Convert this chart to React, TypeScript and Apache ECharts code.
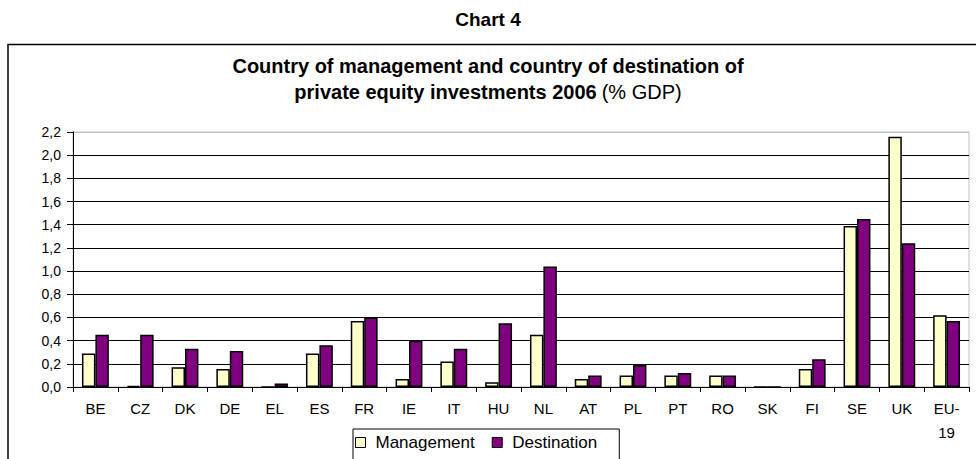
import React, { useEffect, useRef } from "react";
import * as echarts from "echarts";

const categories = ["BE", "CZ", "DK", "DE", "EL", "ES", "FR", "IE", "IT", "HU", "NL", "AT", "PL", "PT", "RO", "SK", "FI", "SE", "UK", "EU-\n19"];
const management = [0.29, 0.01, 0.17, 0.155, 0, 0.29, 0.57, 0.07, 0.22, 0.04, 0.45, 0.07, 0.1, 0.1, 0.1, 0, 0.155, 1.39, 2.16, 0.62];
const destination = [0.45, 0.45, 0.33, 0.31, 0.03, 0.36, 0.6, 0.4, 0.33, 0.55, 1.04, 0.1, 0.19, 0.12, 0.1, 0, 0.24, 1.45, 1.24, 0.57];
const seriesNames = ["Management", "Destination"];

const FONT = "Arial, 'Liberation Sans', sans-serif";

export default function App() {
  const ref = useRef<HTMLDivElement>(null);
  useEffect(() => {
    if (!ref.current) return;
    const chart = echarts.init(ref.current, undefined, { renderer: "svg" });
    const splitColors = new Array(11).fill("#000000").concat(["#c0c0c0"]);
    chart.setOption({
      animation: false,
      backgroundColor: "#ffffff",
      textStyle: { fontFamily: FONT },
      graphic: [
        {
          type: "rect",
          shape: { x: 8, y: 44.5, width: 980, height: 430 },
          style: { fill: "none", stroke: "#000000", lineWidth: 1.5 },
          silent: true,
        },
      ],
      title: [
        {
          text: "Chart 4",
          left: "center",
          top: 5,
          textStyle: { fontFamily: FONT, fontSize: 19, fontWeight: "bold", color: "#000" },
        },
        {
          text: "{b|Country of management and country of destination of}\n{b|private equity investments 2006} {n|(% GDP)}",
          left: "center",
          top: 48,
          textStyle: {
            fontFamily: FONT,
            color: "#000",
            lineHeight: 26,
            rich: {
              b: { fontSize: 20, fontWeight: "bold", color: "#000", fontFamily: FONT, lineHeight: 26 },
              n: { fontSize: 20, fontWeight: "normal", color: "#000", fontFamily: FONT, lineHeight: 26 },
            },
          },
        },
      ],
      legend: {
        data: seriesNames,
        left: 353,
        top: 429,
        padding: [5, 22, 10, 2],
        borderColor: "#000000",
        borderWidth: 1,
        itemWidth: 10,
        itemHeight: 10,
        itemGap: 17,
        icon: "rect",
        itemStyle: { borderColor: "#000000", borderWidth: 1 },
        textStyle: {
          fontSize: 17,
          color: "#000",
          fontFamily: FONT,
          padding: [0, 0, 0, 5],
        },
      },
      grid: {
        left: 73,
        right: 7,
        top: 132,
        bottom: 72,
        show: true,
        borderColor: "#c0c0c0",
        borderWidth: 1,
        backgroundColor: "transparent",
      },
      xAxis: {
        type: "category",
        data: categories,
        axisLine: { lineStyle: { color: "#000", width: 1 } },
        axisTick: { show: true, length: 5, lineStyle: { color: "#000" } },
        axisLabel: { color: "#000", fontSize: 15, margin: 9, lineHeight: 24, interval: 0, fontFamily: FONT },
      },
      yAxis: {
        type: "value",
        min: 0,
        max: 2.2,
        interval: 0.2,
        axisLine: { show: true, lineStyle: { color: "#000", width: 1 } },
        axisTick: { show: true, length: 6, lineStyle: { color: "#000" } },
        axisLabel: {
          color: "#000",
          fontSize: 14,
          margin: 12,
          fontFamily: FONT,
          formatter: (v: number) => v.toFixed(1).replace(".", ","),
        },
        splitLine: { show: true, lineStyle: { color: splitColors, width: 1 } },
      },
      series: [
        {
          name: seriesNames[0],
          type: "bar",
          data: management,
          barGap: "0%",
          barCategoryGap: "40%",
          itemStyle: { color: "#FFFFCC", borderColor: "#000000", borderWidth: 1.5 },
        },
        {
          name: seriesNames[1],
          type: "bar",
          data: destination,
          barGap: "0%",
          barCategoryGap: "40%",
          itemStyle: { color: "#800080", borderColor: "#000000", borderWidth: 1.5 },
        },
      ],
    });
    return () => chart.dispose();
  }, []);
  return (
    <div
      ref={ref}
      style={{ position: "absolute", left: 0, top: 0, width: 976, height: 459 }}
    />
  );
}
